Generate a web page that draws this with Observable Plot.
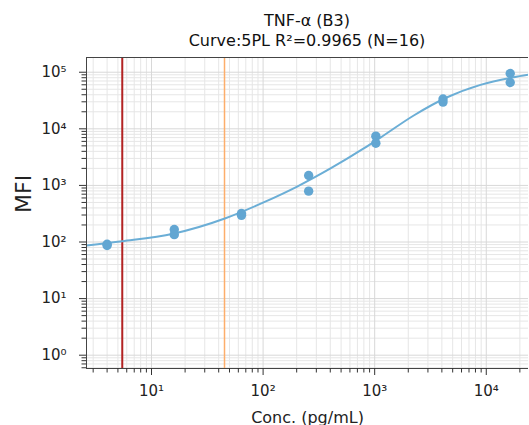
<!DOCTYPE html>
<html><head><meta charset="utf-8">
<script src="https://cdn.jsdelivr.net/npm/d3@7"></script>
<script src="https://cdn.jsdelivr.net/npm/@observablehq/plot@0.6"></script>
<style>
body{margin:0;background:#fff;font-family:"DejaVu Sans",sans-serif;}
#title{width:529px;height:56px;position:relative;}
#title div{position:absolute;left:86px;top:11px;width:442px;text-align:center;font-size:16px;line-height:20px;color:#111;}
</style></head><body>
<div id="title"><div id="tt"></div></div>
<div id="chart"></div>
<script>
const title = "TNF-α (B3)";
const subtitle = "Curve:5PL R²=0.9965 (N=16)";
const xLabel = "Conc. (pg/mL)";
const yLabel = "MFI";
// standards (concentration, MFI)
const stdConc = [4, 4, 16, 16, 64, 64, 256, 256, 1024, 1024, 4096, 4096, 16384, 16384];
const stdMFI  = [91, 87, 166, 135, 318, 296, 1496, 791, 7410, 5570, 33600, 29700, 94800, 65800];
// fitted curve samples
const curveConc = [2.62, 5.46, 15.6, 45.4, 101, 202, 402, 798, 1127, 2239, 4467, 8872, 17620, 23900];
const curveMFI  = [86.7, 103, 140, 260, 501, 955, 1995, 4500, 7000, 17200, 36100, 59800, 81700, 90600];
// reference lines
const lowerLimit = 5.47;
const lowerQuant = 45.1;
// ticks
const xMajor = [10, 100, 1000, 10000];
const xMinor = [3,4,5,6,7,8,9,20,30,40,50,60,70,80,90,200,300,400,500,600,700,800,900,2000,3000,4000,5000,6000,7000,8000,9000,20000];
const yMajor = [1, 10, 100, 1000, 10000, 100000];
const yMinor = [0.6,0.7,0.8,0.9,2,3,4,5,6,7,8,9,20,30,40,50,60,70,80,90,200,300,400,500,600,700,800,900,2000,3000,4000,5000,6000,7000,8000,9000,20000,30000,40000,50000,60000,70000,80000,90000];

document.getElementById("tt").innerHTML = title + "<br>" + subtitle;

const supMap = {"-":"⁻","0":"⁰","1":"¹","2":"²","3":"³","4":"⁴","5":"⁵","6":"⁶","7":"⁷","8":"⁸","9":"⁹"};
const sup = d => "10" + String(Math.round(Math.log10(d))).split("").map(c => supMap[c]).join("");

const points = stdConc.map((c, i) => ({conc: c, mfi: stdMFI[i]}));
const curve = curveConc.map((c, i) => ({conc: c, mfi: curveMFI[i]}));
const xDomain = [2.615, 23900];
const yDomain = [0.582, 1.82e5];

const chart = Plot.plot({
  width: 529, height: 369,
  marginLeft: 86, marginRight: 1, marginTop: 1, marginBottom: 57,
  x: {type: "log", domain: xDomain},
  y: {type: "log", domain: yDomain},
  style: {fontFamily: "DejaVu Sans", fontSize: "15px", color: "#222", background: "#fff"},
  marks: [
    Plot.gridX(xMinor, {stroke: "#e6e6e6", strokeOpacity: 1}),
    Plot.gridY(yMinor, {stroke: "#e6e6e6", strokeOpacity: 1}),
    Plot.gridX(xMajor, {stroke: "#d8d8d8", strokeOpacity: 1}),
    Plot.gridY(yMajor, {stroke: "#d8d8d8", strokeOpacity: 1}),
    Plot.ruleX([lowerLimit], {stroke: "#b22222", strokeWidth: 2}),
    Plot.ruleX([lowerQuant], {stroke: "#fdae6b", strokeWidth: 1.5}),
    Plot.line(curve, {x: "conc", y: "mfi", stroke: "#6baed6", strokeWidth: 2, curve: "monotone-x", clip: true}),
    Plot.dot(points, {x: "conc", y: "mfi", r: 4.7, fill: "#62a6d2"}),
    Plot.ruleX([xDomain[0]], {stroke: "#444", strokeWidth: 1}),
    Plot.ruleY([yDomain[0]], {stroke: "#444", strokeWidth: 1}),
    Plot.ruleY([yDomain[1]], {stroke: "#444", strokeWidth: 1}),
    Plot.axisX(xMajor, {tickSize: 7, tickPadding: 10, tickFormat: sup, label: null, stroke: "#333", fontSize: 15}),
    Plot.axisX(xMinor, {tickSize: 4.5, tickFormat: () => "", label: null, stroke: "#333"}),
    Plot.axisY(yMajor, {tickSize: 7, tickPadding: 13, tickFormat: sup, label: null, stroke: "#333", fontSize: 15}),
    Plot.axisY(yMinor, {tickSize: 4.5, tickFormat: () => "", label: null, stroke: "#333"}),
    Plot.text([xLabel], {text: d => d, frameAnchor: "bottom", dy: 54, lineAnchor: "bottom", fontSize: 16, fill: "#222"}),
    Plot.text([yLabel], {text: d => d, frameAnchor: "left", dx: -62.5, rotate: -90, fontSize: 22, fill: "#222"})
  ]
});
document.getElementById("chart").appendChild(chart);
</script>
</body></html>
